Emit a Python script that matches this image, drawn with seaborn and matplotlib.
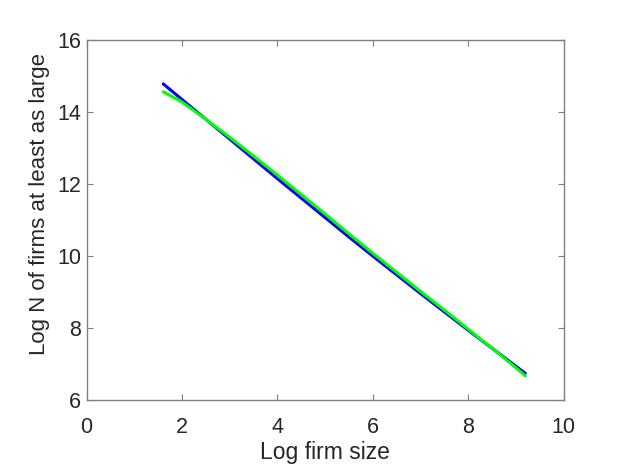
import matplotlib
matplotlib.use("Agg")
import matplotlib.pyplot as plt
import seaborn as sns
import pandas as pd

log_size = [1.61, 2.0, 2.5, 3.0, 3.5, 4.0, 4.5, 5.0, 5.5, 6.0, 6.5, 7.0, 7.5, 8.0, 8.5, 9.0, 9.2]
blue_vals = [14.78, 14.35, 13.80, 13.25, 12.70, 12.15, 11.61, 11.07, 10.53, 10.00, 9.48, 8.96, 8.45, 7.94, 7.44, 6.94, 6.74]
green_vals = [14.56, 14.28, 13.80, 13.30, 12.78, 12.25, 11.71, 11.17, 10.62, 10.08, 9.55, 9.02, 8.50, 7.97, 7.44, 6.90, 6.67]
x_ticks = [0, 2, 4, 6, 8, 10]
y_ticks = [6, 8, 10, 12, 14, 16]

sns.set_theme(style="white")
plt.rcParams['font.family'] = ['Liberation Sans', 'DejaVu Sans']

df = pd.concat([
    pd.DataFrame({"x": log_size, "y": blue_vals, "s": "blue"}),
    pd.DataFrame({"x": log_size, "y": green_vals, "s": "green"}),
])

fig = plt.figure(figsize=(6.18, 4.66), dpi=100)
ax = fig.add_axes([86.5/618, 1-400/466, 477/618, 360/466])
sns.lineplot(data=df, x="x", y="y", hue="s", palette={"blue": "#0000ff", "green": "#00ff00"},
             linewidth=2.2, legend=False, ax=ax, sort=False, estimator=None)

ax.set_xlim(0, 10)
ax.set_ylim(6, 16)
ax.set_xticks(x_ticks)
ax.set_yticks(y_ticks)
txt = '#262626'
ax.tick_params(direction='in', length=4, width=0.8, colors='#808080', labelcolor=txt,
               labelsize=15.5, top=True, right=True, bottom=True, left=True)
ax.tick_params(axis='x', pad=12)
ax.tick_params(axis='y', pad=4)
for sp in ax.spines.values():
    sp.set_color('#808080')
    sp.set_linewidth(1.0)
ax.set_xlabel("Log firm size", fontsize=16.5, color=txt)
ax.set_ylabel("Log N of firms at least as large", fontsize=16, color=txt)
ax.xaxis.set_label_coords(0.5, -0.115)
ax.yaxis.set_label_coords(-0.077, (400 - 203.5) / 360)
fig.savefig("out.png", dpi=100)
